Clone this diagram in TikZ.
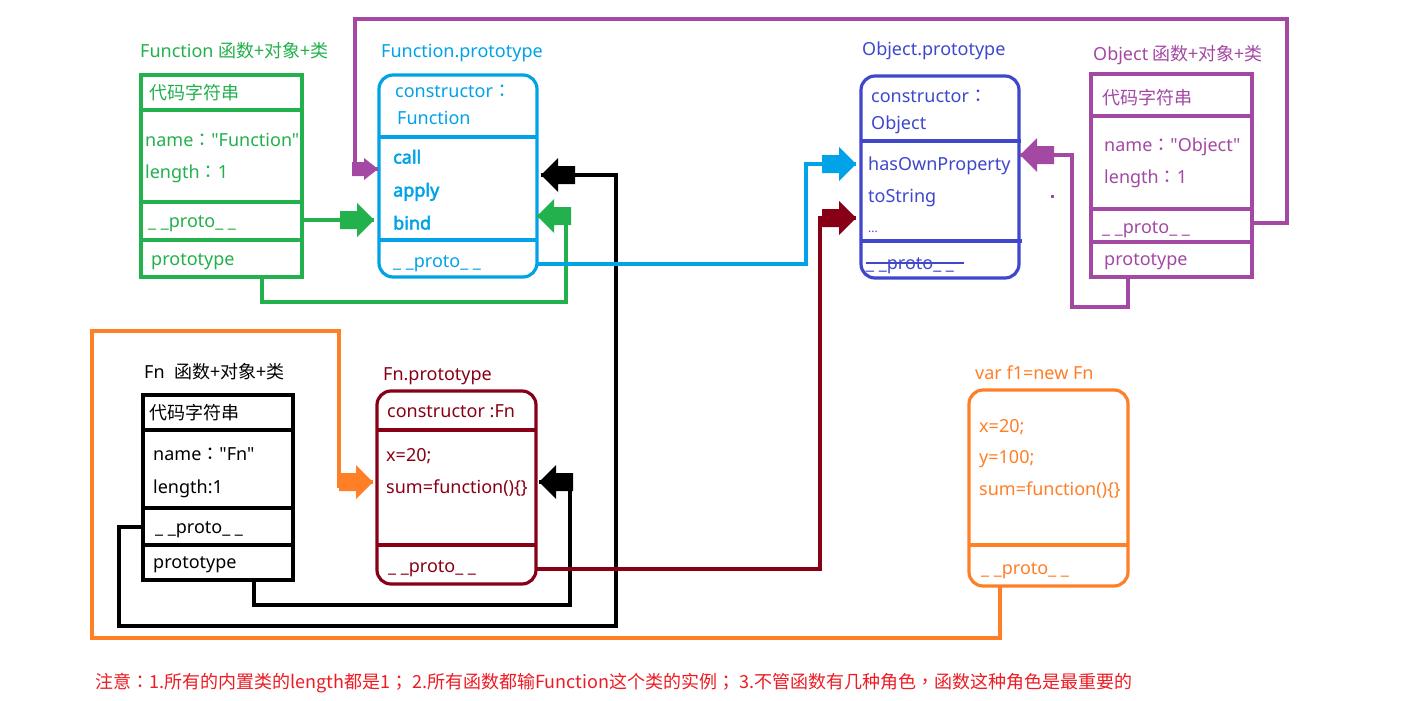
\documentclass[tikz,border=0pt]{standalone}
\usepackage{fontspec}
\setmainfont{Noto Sans}[Ligatures=TeXOff]
\newfontfamily\cjk{Noto Sans CJK SC}[Ligatures=TeXOff]
\newfontfamily\cjkp{Noto Sans CJK TC}[Ligatures=TeXOff]
\newfontfamily\boldf{Noto Sans}[Ligatures=TeXOff,FakeBold=2.5]
\newcommand\cc{{\cjkp ：}}
\definecolor{cgreen}{HTML}{22B14C}
\definecolor{cblue}{HTML}{00A2E8}
\definecolor{cpurple}{HTML}{A349A4}
\definecolor{cdred}{HTML}{880015}
\definecolor{corange}{HTML}{FF7F27}
\definecolor{cindigo}{HTML}{3F48CC}
\definecolor{cred}{HTML}{ED1C24}
\begin{document}
\begin{tikzpicture}[x=1pt,y=-1pt,
  lw/.style={line width=3.2pt},
  sqbox/.style={draw=#1, lw, anchor=center, inner sep=0pt, outer sep=0pt},
  rdbox/.style={draw=#1, lw, rounded corners=14pt, anchor=center, inner sep=0pt, outer sep=0pt},
  txt/.style={anchor=west, inner sep=0pt, text=#1, font=\fontsize{18}{21}\selectfont, text height=13pt, text depth=0pt},
  bld/.style={font=\boldf\fontsize{18}{21}\selectfont},
  conn/.style={draw=#1, line width=3.2pt, line join=miter},
  pics/blk/.style={code={\fill[#1] (0,0) -- (-17,-17) -- (-17,-9) -- (-34,-9) -- (-34,9) -- (-17,9) -- (-17,17) -- cycle;}},
  pics/blks/.style={code={\fill[#1] (0,0) -- (-14,-11) -- (-14,-7) -- (-26,-7) -- (-26,7) -- (-14,7) -- (-14,11) -- cycle;}},
]
\useasboundingbox (0,0) rectangle (1405,701);
\fill[white] (0,0) rectangle (1405,701);

% ---------- Function box ----------
\node[txt=cgreen] (Ftitle) at (140,51) {Function {\cjk 函数+对象+类}};
\node[sqbox=cgreen, minimum width=161pt, minimum height=202pt] (F) at (221.5,176) {};
\draw[cgreen,lw] (141,110) -- (302,110) (141,202) -- (302,202) (141,240) -- (302,240);
\node[txt=cgreen] at (149,93) {\cjk 代码字符串};
\node[txt=cgreen] at (145,140) {name\cc"Function"};
\node[txt=cgreen] at (145,172) {length\cc 1};
\node[txt=cgreen] at (148,221) {\_ \_proto\_ \_};
\node[txt=cgreen] at (151,259) {prototype};

% ---------- Function.prototype ----------
\node[txt=cblue] (FPtitle) at (381,51) {Function.prototype};
\node[rdbox=cblue, minimum width=158pt, minimum height=202pt] (FP) at (458,176) {};
\draw[cblue,lw] (379,137) -- (537,137) (379,240) -- (537,240);
\node[txt=cblue] at (395,91) {constructor\cc};
\node[txt=cblue] at (397,118) {Function};
\node[txt=cblue, bld] at (393,157) {call};
\node[txt=cblue, bld] at (393,190) {apply};
\node[txt=cblue, bld] at (393,223) {bind};
\node[txt=cblue] at (393,261) {\_ \_proto\_ \_};

% ---------- Object.prototype ----------
\node[txt=cindigo] (OPtitle) at (862,49) {Object.prototype};
\node[rdbox=cindigo, minimum width=158pt, minimum height=202pt] (OP) at (940,177) {};
\draw[cindigo,lw] (861,141) -- (1021,141) (861,241) -- (1022,241);
\node[txt=cindigo] at (871,96) {constructor\cc};
\node[txt=cindigo] at (871,123) {Object};
\node[txt=cindigo] at (868,164) {hasOwnProperty};
\node[txt=cindigo] at (868,196) {toString};
\node[txt=cindigo, font=\fontsize{12}{14}\selectfont, text height=6pt] at (868,229) {...};
\node[txt=cindigo] at (866,263) {\_ \_proto\_ \_};
\draw[cindigo, line width=2.2pt] (866,263) -- (964,263);

% ---------- Object box ----------
\node[txt=cpurple] (Otitle) at (1093,54) {Object {\cjk 函数+对象+类}};
\node[sqbox=cpurple, minimum width=161pt, minimum height=203pt] (O) at (1171.5,175.5) {};
\draw[cpurple,lw] (1090,116) -- (1254,116) (1091,209) -- (1254,209) (1091,242) -- (1254,242);
\node[txt=cpurple] at (1102,98) {\cjk 代码字符串};
\node[txt=cpurple] at (1104,145) {name\cc"Object"};
\node[txt=cpurple] at (1104,177) {length\cc 1};
\node[txt=cpurple] at (1102,227) {\_ \_proto\_ \_};
\node[txt=cpurple] at (1104,259) {prototype};
\fill[cpurple] (1050.5,194.5) rectangle (1053.5,197.5);

% ---------- Fn box ----------
\node[txt=black] (Ntitle) at (144,372) {Fn\ \ {\cjk 函数+对象+类}};
\node[sqbox=black, minimum width=150pt, minimum height=185pt] (N) at (218,487.5) {};
\draw[black,lw] (143,430) -- (293,430) (143,508) -- (293,508) (143,545) -- (293,545);
\node[txt=black] at (149,413) {\cjk 代码字符串};
\node[txt=black] at (153,454) {name\cc"Fn"};
\node[txt=black] at (153,487) {length:1};
\node[txt=black] at (155,527) {\_ \_proto\_ \_};
\node[txt=black] at (153,562) {prototype};

% ---------- Fn.prototype ----------
\node[txt=cdred] (NPtitle) at (383,374) {Fn.prototype};
\node[rdbox=cdred, minimum width=159pt, minimum height=193pt] (NP) at (456.5,487.5) {};
\draw[cdred,lw] (377,430) -- (536,430) (377,545) -- (536,545);
\node[txt=cdred] at (387,411) {constructor :Fn};
\node[txt=cdred] at (386,455) {x=20;};
\node[txt=cdred] at (386,487) {sum=function()\{\}};
\node[txt=cdred] at (388,566) {\_ \_proto\_ \_};

% ---------- f1 ----------
\node[txt=corange] (f1title) at (975,373) {var f1=new Fn};
\node[rdbox=corange, minimum width=159pt, minimum height=196pt] (f1) at (1048.5,488) {};
\draw[corange,lw] (969,545) -- (1128,545);
\node[txt=corange] at (979,426) {x=20;};
\node[txt=corange] at (979,457) {y=100;};
\node[txt=corange] at (979,489) {sum=function()\{\}};
\node[txt=corange] at (981,568) {\_ \_proto\_ \_};

% ---------- connector end points ----------
\coordinate (p1s) at (1252,223);  \coordinate (p1t) at (378,169);
\coordinate (g1s) at (302,220);   \coordinate (g1t) at (374,220);
\coordinate (g2s) at (262,277);   \coordinate (g2t) at (537,216);
\coordinate (b1s) at (143,527);   \coordinate (b1t) at (541,175);
\coordinate (b2s) at (254,580);   \coordinate (b2t) at (539,482);
\coordinate (bls) at (537,264);   \coordinate (blt) at (856,164);
\coordinate (drs) at (536,569);   \coordinate (drt) at (856,218);
\coordinate (p2s) at (1128,277);  \coordinate (p2t) at (1020,155);
\coordinate (os)  at (1000,586);  \coordinate (ot)  at (373,482);

% ---------- connectors ----------
\draw[conn=cpurple] (p1s) -- (1287,223) -- (1287,19) -- (355,19) -- (355,169) -- (p1t);
\pic at (p1t) {blks=cpurple};
\draw[conn=cgreen] (g1s) -- (g1t);
\pic at (g1t) {blk=cgreen};
\draw[conn=cgreen] (g2s) -- (262,302) -- (566,302) -- (566,216) -- (g2t);
\pic[rotate=180] at (g2t) {blk=cgreen};
\draw[conn=black] (b1s) -- (119,527) -- (119,626) -- (616,626) -- (616,175) -- (b1t);
\pic[rotate=180] at (b1t) {blk=black};
\draw[conn=black] (b2s) -- (254,605) -- (570,605) -- (570,482) -- (b2t);
\pic[rotate=180] at (b2t) {blk=black};
\draw[conn=cblue] (bls) -- (806,264) -- (806,164) -- (blt);
\pic at (blt) {blk=cblue};
\draw[conn=cdred] (drs) -- (820,569) -- (820,218) -- (drt);
\pic at (drt) {blk=cdred};
\draw[conn=cpurple] (p2s) -- (1128,307) -- (1072,307) -- (1072,155) -- (p2t);
\pic[rotate=180] at (p2t) {blk=cpurple};
\draw[conn=corange] (os) -- (1000,638) -- (92,638) -- (92,331) -- (339,331) -- (339,488);
\draw[conn=corange] (339,482) -- (ot);
\pic at (ot) {blk=corange};

% ---------- note ----------
\node[anchor=west, inner sep=0pt, text=cred, font=\cjk\fontsize{18}{21}\selectfont, text height=13pt, text depth=0pt] (note) at (95,682) {注意{\cjkp ：}1.所有的内置类的length都是1{\cjkp ；} 2.所有函数都输Function这个类的实例{\cjkp ；} 3.不管函数有几种角色{\cjkp ，}函数这种角色是最重要的};
\end{tikzpicture}
\end{document}
